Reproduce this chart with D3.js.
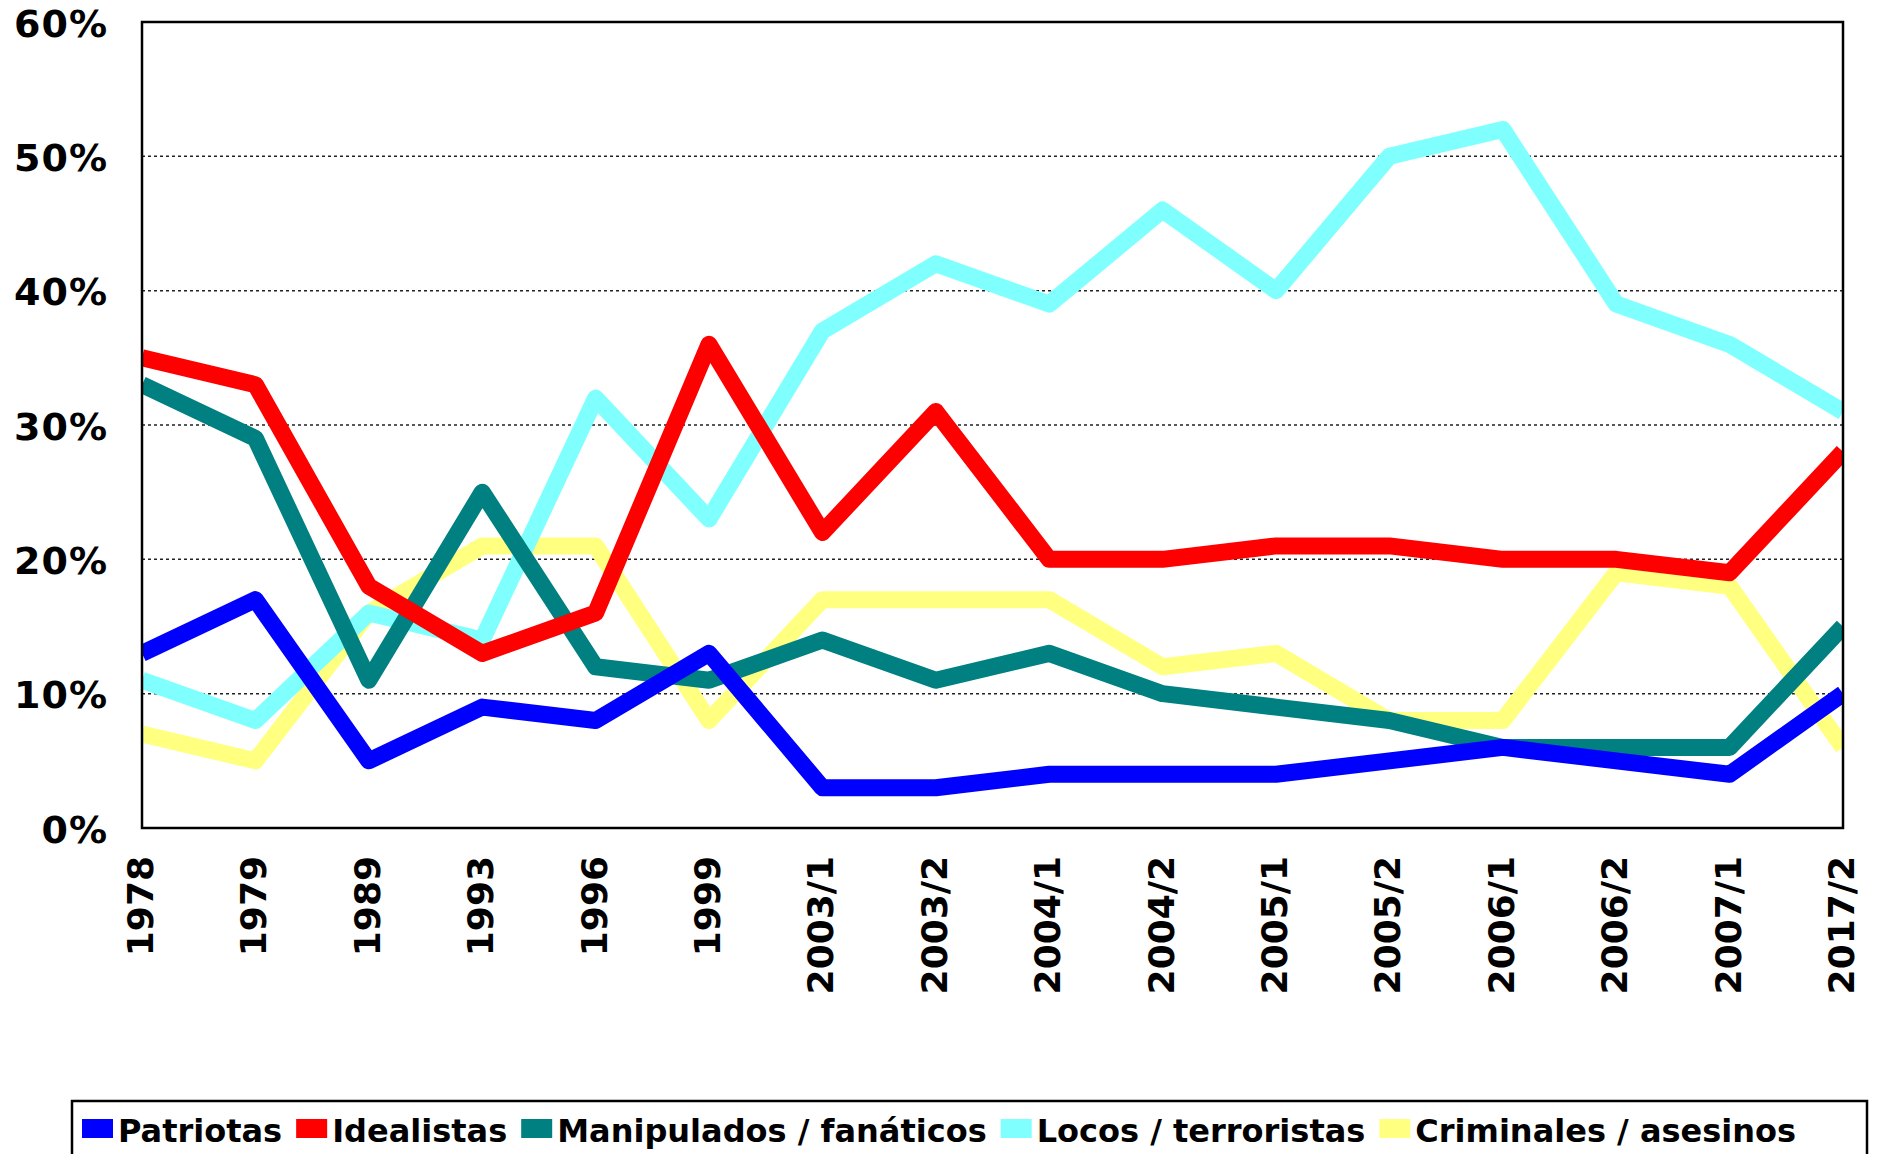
<!DOCTYPE html>
<html lang="es">
<head>
<meta charset="UTF-8" />
<title>Patriotas / Idealistas / ...</title>
<style>
  body { margin: 0; background: #fff; }
  svg text { font-family: "DejaVu Sans", Verdana, sans-serif; font-weight: bold; fill: #000; }
</style>
</head>
<body>
<div id="chart"></div>
<script src="https://cdn.jsdelivr.net/npm/d3@7"></script>
<script>
// categories (survey waves)
const periods = ["1978", "1979", "1989", "1993", "1996", "1999", "2003/1", "2003/2",
  "2004/1", "2004/2", "2005/1", "2005/2", "2006/1", "2006/2", "2007/1", "2017/2"];

// percentages
const patriotas   = [13, 17, 5, 9, 8, 13, 3, 3, 4, 4, 4, 5, 6, 5, 4, 10];
const idealistas  = [35, 33, 18, 13, 16, 36, 22, 31, 20, 20, 21, 21, 20, 20, 19, 28];
const manipulados = [33, 29, 11, 25, 12, 11, 14, 11, 13, 10, 9, 8, 6, 6, 6, 15];
const locos       = [11, 8, 16, 14, 32, 23, 37, 42, 39, 46, 40, 50, 52, 39, 36, 31];
const criminales  = [7, 5, 16, 21, 21, 8, 17, 17, 17, 12, 13, 8, 8, 19, 18, 6];

const yTicks = [0, 10, 20, 30, 40, 50, 60];

const series = [
  { name: "Patriotas", color: "#0000ff", values: patriotas },
  { name: "Idealistas", color: "#ff0000", values: idealistas },
  { name: "Manipulados / fanáticos", color: "#008080", values: manipulados },
  { name: "Locos / terroristas", color: "#80ffff", values: locos },
  { name: "Criminales / asesinos", color: "#ffff80", values: criminales }
];

const W = 1881, H = 1154;
const plot = { left: 142, top: 22, right: 1843, bottom: 828 };

const svg = d3.select("#chart").append("svg")
  .attr("width", W).attr("height", H);

const x = d3.scalePoint().domain(periods).range([plot.left, plot.right]).padding(0);
const y = d3.scaleLinear().domain([0, 60]).range([plot.bottom, plot.top]);

// dotted gridlines
svg.append("g").selectAll("line")
  .data(yTicks.filter(t => t > 0 && t < 60))
  .join("line")
  .attr("x1", plot.left).attr("x2", plot.right)
  .attr("y1", d => y(d)).attr("y2", d => y(d))
  .attr("stroke", "#222").attr("stroke-width", 1.5)
  .attr("stroke-dasharray", "3,3");

// y labels
svg.append("g").selectAll("text")
  .data(yTicks)
  .join("text")
  .attr("x", 108)
  .attr("y", d => y(d) + 4)
  .attr("text-anchor", "end")
  .attr("dominant-baseline", "middle")
  .style("font-size", "38px")
  .style("letter-spacing", "1px")
  .text(d => d + "%");

// x labels, rotated
svg.append("g").selectAll("text")
  .data(periods)
  .join("text")
  .attr("transform", d => `translate(${x(d) + 1},856) rotate(-90)`)
  .attr("text-anchor", "end")
  .attr("dominant-baseline", "middle")
  .style("font-size", "36px")
  .text(d => d);

svg.append("clipPath").attr("id", "plotclip")
  .append("rect")
  .attr("x", plot.left).attr("y", plot.top)
  .attr("width", plot.right - plot.left).attr("height", plot.bottom - plot.top);

const line = d3.line()
  .x((d, i) => x(periods[i]))
  .y(d => y(d));

// first series ends up on top
svg.append("g").attr("clip-path", "url(#plotclip)")
  .selectAll("path")
  .data(series.slice().reverse())
  .join("path")
  .attr("d", d => line(d.values))
  .attr("fill", "none")
  .attr("stroke", d => d.color)
  .attr("stroke-width", 17)
  .attr("stroke-linejoin", "round");

// plot frame
svg.append("rect")
  .attr("x", plot.left).attr("y", plot.top)
  .attr("width", plot.right - plot.left).attr("height", plot.bottom - plot.top)
  .attr("fill", "none").attr("stroke", "#000").attr("stroke-width", 2.5);

// legend
const legend = svg.append("g");
legend.append("rect")
  .attr("x", 72).attr("y", 1101)
  .attr("width", 1795).attr("height", 70)
  .attr("fill", "#fff").attr("stroke", "#000").attr("stroke-width", 2.5);

let lx = 82;
series.forEach(s => {
  legend.append("rect")
    .attr("x", lx).attr("y", 1119)
    .attr("width", 31).attr("height", 19)
    .attr("fill", s.color);
  const t = legend.append("text")
    .attr("x", lx + 36).attr("y", 1142)
    .style("font-size", "32px")
    .text(s.name);
  lx += 36 + t.node().getComputedTextLength() + 14;
});
</script>
</body>
</html>
